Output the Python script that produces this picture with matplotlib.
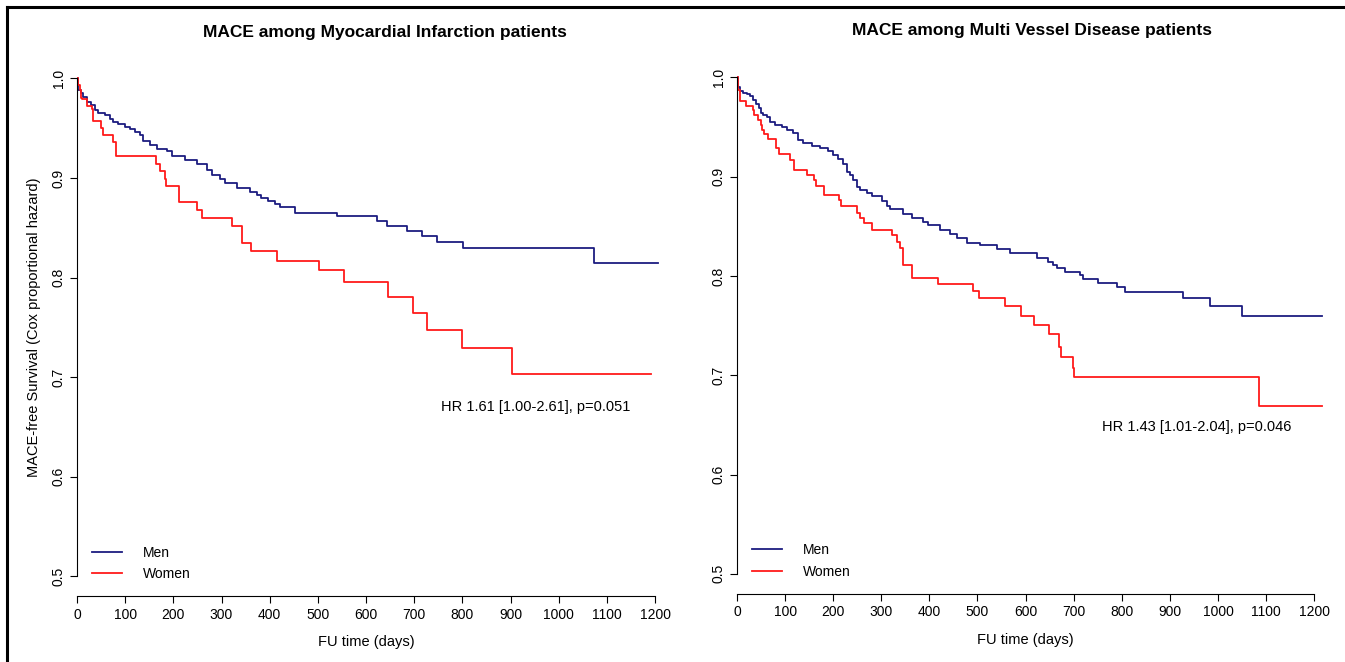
import matplotlib
matplotlib.use("Agg")
from matplotlib import pyplot as plt
from matplotlib.lines import Line2D

plt.rcParams['font.family'] = ['Liberation Sans', 'DejaVu Sans']

# Myocardial infarction: (days, survival) step points, last point = end of follow-up
mi_men_t = [0, 2, 8, 13, 20, 30, 37, 44, 58, 69, 75, 85, 100, 110, 120, 131, 137, 152,
            166, 187, 197, 224, 249, 270, 280, 297, 308, 332, 360, 373, 383, 397, 411,
            421, 453, 539, 622, 643, 685, 716, 747, 801, 1073, 1206]
mi_men_s = [1.0, 0.988, 0.985, 0.981, 0.976, 0.973, 0.968, 0.965, 0.963, 0.9595, 0.956,
            0.9545, 0.951, 0.949, 0.946, 0.943, 0.937, 0.933, 0.929, 0.927, 0.922, 0.918,
            0.914, 0.908, 0.903, 0.899, 0.895, 0.890, 0.886, 0.8825, 0.880, 0.877, 0.8735,
            0.871, 0.865, 0.8615, 0.857, 0.852, 0.847, 0.842, 0.836, 0.830, 0.8146, 0.8146]
mi_women_t = [0, 2, 6, 8, 10, 20, 31, 33, 50, 55, 74, 81, 164, 172, 183, 185, 212, 249,
              260, 322, 343, 361, 416, 503, 555, 646, 698, 726, 799, 903, 1191]
mi_women_s = [1.0, 0.993, 0.988, 0.980, 0.979, 0.972, 0.969, 0.957, 0.950, 0.943, 0.936,
              0.9217, 0.914, 0.9066, 0.899, 0.8916, 0.876, 0.8675, 0.8597, 0.852, 0.8346,
              0.8263, 0.817, 0.8072, 0.796, 0.781, 0.7644, 0.747, 0.729, 0.7035, 0.7035]

# Multi vessel disease
mvd_men_t = [0, 2, 6, 13, 20, 27, 33, 40, 45, 50, 55, 62, 69, 78, 93, 103, 117, 127, 138,
             155, 172, 190, 200, 211, 221, 228, 235, 242, 249, 256, 270, 280, 301, 311,
             318, 345, 363, 387, 397, 422, 443, 457, 478, 505, 540, 568, 623, 646, 657,
             665, 682, 713, 719, 751, 790, 806, 927, 983, 1050, 1216]
mvd_men_s = [1.0, 0.990, 0.9865, 0.9845, 0.983, 0.981, 0.977, 0.973, 0.969, 0.964, 0.962,
             0.960, 0.955, 0.952, 0.950, 0.947, 0.944, 0.937, 0.934, 0.931, 0.9285, 0.926,
             0.922, 0.918, 0.913, 0.905, 0.9016, 0.897, 0.890, 0.8865, 0.883, 0.880, 0.875,
             0.870, 0.867, 0.862, 0.858, 0.8546, 0.851, 0.846, 0.842, 0.838, 0.8334, 0.831,
             0.8268, 0.8234, 0.8177, 0.8143, 0.811, 0.8077, 0.804, 0.801, 0.797, 0.7932,
             0.7885, 0.7835, 0.7774, 0.770, 0.7596, 0.7596]
mvd_women_t = [0, 3, 6, 18, 33, 36, 44, 49, 53, 57, 65, 81, 88, 110, 118, 146, 160, 165,
               180, 212, 217, 249, 256, 264, 280, 323, 332, 339, 345, 363, 417, 490, 504,
               557, 590, 617, 648, 670, 673, 699, 701, 1085, 1216]
mvd_women_s = [1.0, 0.987, 0.9765, 0.9714, 0.967, 0.962, 0.957, 0.952, 0.947, 0.943,
               0.9375, 0.9285, 0.9225, 0.917, 0.907, 0.9016, 0.897, 0.891, 0.8815, 0.8765,
               0.8704, 0.8636, 0.858, 0.853, 0.8462, 0.841, 0.8345, 0.828, 0.8107, 0.798,
               0.7917, 0.785, 0.7774, 0.770, 0.760, 0.7506, 0.741, 0.728, 0.718, 0.707,
               0.6985, 0.6693, 0.6693]

titles = ["MACE among Myocardial Infarction patients", "MACE among Multi Vessel Disease patients"]
hr_texts = ["HR 1.61 [1.00-2.61], p=0.051", "HR 1.43 [1.01-2.04], p=0.046"]
xticks = list(range(0, 1201, 100))
yticks = [0.5, 0.6, 0.7, 0.8, 0.9, 1.0]

NAVY = '#1c1c80'
RED = '#ff1a1a'
W, H = 1345, 662

fig = plt.figure(figsize=(W / 100, H / 100), dpi=100)


def px_axes(left, top, width, bottom):
    return fig.add_axes([left / W, 1 - bottom / H, width / W, (bottom - top) / H])


def style(ax):
    ax.set_xlim(0, 1230)
    ax.set_ylim(0.48, 1.02)
    for s in ['top', 'right']:
        ax.spines[s].set_visible(False)
    ax.spines['left'].set_bounds(0.5, 1.0)
    ax.spines['bottom'].set_bounds(0, 1200)
    for s in ['left', 'bottom']:
        ax.spines[s].set_linewidth(0.8)
    ax.set_xticks(xticks)
    ax.set_yticks(yticks)
    ax.set_yticklabels([f"{v:.1f}" for v in yticks], rotation=90, va='center')
    ax.tick_params(length=5, width=0.8, labelsize=10, colors='black')
    ax.tick_params(axis='y', pad=3)
    ax.tick_params(axis='x', pad=3)
    ax.set_xlabel("FU time (days)", fontsize=10.5, x=600 / 1230, labelpad=10)


ax1 = px_axes(77, 58.4, 592.5, 596.4)
ax2 = px_axes(737, 57.4, 591.6, 593.7)

for ax, men_t, men_s, wom_t, wom_s in [(ax1, mi_men_t, mi_men_s, mi_women_t, mi_women_s),
                                       (ax2, mvd_men_t, mvd_men_s, mvd_women_t, mvd_women_s)]:
    ax.step(men_t, men_s, where='post', color=NAVY, lw=1.3, label='Men')
    ax.step(wom_t, wom_s, where='post', color=RED, lw=1.3, label='Women')
    style(ax)
    ax.legend(loc='lower left', bbox_to_anchor=(0.025, 0.028), frameon=False, fontsize=10,
              handlelength=2.2, handletextpad=1.5, labelspacing=0.55, borderpad=0,
              borderaxespad=0)

ax1.set_ylabel("MACE-free Survival (Cox proportional hazard)", fontsize=10.5, labelpad=8)

fig.text(385 / W, 1 - 32 / H, titles[0], fontsize=12.5, fontweight='bold', ha='center', va='center')
fig.text(1032 / W, 1 - 31 / H, titles[1], fontsize=12.5, fontweight='bold', ha='center', va='center')
fig.text(536 / W, 1 - 407 / H, hr_texts[0], fontsize=10.5, ha='center', va='center')
fig.text(1197 / W, 1 - 427 / H, hr_texts[1], fontsize=10.5, ha='center', va='center')

# frame edges visible at top and left
fig.add_artist(Line2D([7 / W, 1], [1 - 7 / H, 1 - 7 / H], color='black', lw=2.2))
fig.add_artist(Line2D([7 / W, 7 / W], [0, 1 - 7 / H], color='black', lw=2.2))

fig.savefig("out.png", dpi=100)
